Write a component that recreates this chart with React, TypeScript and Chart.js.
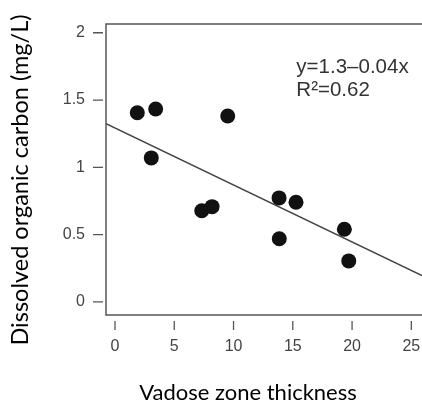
import React, { useEffect, useRef } from 'react';
import { Chart, registerables } from 'chart.js';
Chart.register(...registerables);

// Data
const thickness = [1.88, 3.43, 3.06, 9.51, 7.32, 8.19, 13.84, 15.27, 13.86, 19.35, 19.72];
const carbon = [1.406, 1.434, 1.07, 1.382, 0.678, 0.708, 0.773, 0.741, 0.47, 0.54, 0.305];
const fitX = [-0.76, 25.9];
const fitY = [1.325, 0.196];
const xTicks = [0, 5, 10, 15, 20, 25];
const xTickLabels = ['0', '5', '10', '15', '20', '25'];
const yTicks = [0, 0.5, 1, 1.5, 2];
const yTickLabels = ['0', '0.5', '1', '1.5', '2'];
const equationLines = ['y=1.3\u20130.04x', 'R\u00B2=0.62'];
const xTitle = 'Vadose zone thickness';
const yTitle = 'Dissolved organic carbon (mg/L)';

const W = 422;
const H = 405;

const framePlugin = {
  id: 'frame',
  afterDraw(chart: any) {
    const { ctx, chartArea, scales } = chart;
    const { left, top, right, bottom } = chartArea;
    ctx.save();
    ctx.strokeStyle = '#555';
    ctx.lineWidth = 1.5;
    ctx.beginPath();
    ctx.moveTo(right + 2, top);
    ctx.lineTo(left, top);
    ctx.lineTo(left, bottom);
    ctx.lineTo(right + 2, bottom);
    ctx.stroke();
    // tick marks, detached from the frame
    ctx.lineWidth = 1.3;
    ctx.beginPath();
    yTicks.forEach((v) => {
      const p = scales.y.getPixelForValue(v);
      ctx.moveTo(left - 13, p);
      ctx.lineTo(left - 3, p);
    });
    xTicks.forEach((v) => {
      const p = scales.x.getPixelForValue(v);
      ctx.moveTo(p, bottom + 6);
      ctx.lineTo(p, bottom + 15);
    });
    ctx.stroke();

    // equation text
    ctx.fillStyle = '#333';
    ctx.font = '20.5px "Liberation Sans", Arial, sans-serif';
    ctx.textAlign = 'left';
    ctx.textBaseline = 'alphabetic';
    const ex = scales.x.getPixelForValue(15.3);
    ctx.fillText(equationLines[0], ex, scales.y.getPixelForValue(1.7));
    ctx.fillText(equationLines[1], ex, scales.y.getPixelForValue(1.53));

    // axis titles
    ctx.fillStyle = '#000';
    ctx.font = '22px Lato, "Open Sans", sans-serif';
    ctx.textAlign = 'center';
    ctx.fillText(xTitle, 248, 400);
    ctx.save();
    ctx.translate(28, 180);
    ctx.rotate(-Math.PI / 2);
    ctx.font = '23.5px Lato, "Open Sans", sans-serif';
    ctx.fillText(yTitle, 0, 0);
    ctx.restore();
    ctx.restore();
  },
};

export default function App() {
  const ref = useRef<HTMLCanvasElement>(null);
  useEffect(() => {
    if (!ref.current) return;
    const tickFont = { family: '"Liberation Sans", Arial, sans-serif', size: 16 };
    const chart = new Chart(ref.current, {
      type: 'scatter',
      data: {
        datasets: [
          {
            type: 'line',
            data: fitX.map((x, i) => ({ x, y: fitY[i] })),
            borderColor: '#444',
            borderWidth: 1.6,
            pointRadius: 0,
            fill: false,
            order: 2,
          } as any,
          {
            type: 'scatter',
            data: thickness.map((x, i) => ({ x, y: carbon[i] })),
            backgroundColor: '#111',
            borderColor: '#111',
            pointRadius: 7.5,
            borderWidth: 0,
            order: 1,
          },
        ],
      },
      options: {
        responsive: false,
        animation: false,
        layout: { autoPadding: false, padding: { top: 24, left: 0, right: 0, bottom: 0 } },
        plugins: { legend: { display: false }, tooltip: { enabled: false } },
        scales: {
          x: {
            type: 'linear',
            min: -0.76,
            max: 25.9,
            grid: { display: false, drawTicks: false },
            border: { display: false },
            afterBuildTicks: (s: any) => {
              s.ticks = xTicks.map((v) => ({ value: v }));
            },
            afterFit: (s: any) => {
              s.height = 90;
              s.paddingLeft = 0;
              s.paddingRight = 0;
            },
            ticks: {
              font: tickFont,
              color: '#444',
              padding: 22,
              autoSkip: false,
              maxRotation: 0,
              callback: (_v: any, i: number) => xTickLabels[i],
            },
          },
          y: {
            type: 'linear',
            min: -0.097,
            max: 2.065,
            grid: { display: false, drawTicks: false },
            border: { display: false },
            afterBuildTicks: (s: any) => {
              s.ticks = yTicks.map((v) => ({ value: v }));
            },
            afterFit: (s: any) => {
              s.width = 106;
              s.paddingTop = 0;
              s.paddingBottom = 0;
            },
            ticks: {
              font: tickFont,
              color: '#444',
              padding: 21,
              autoSkip: false,
              callback: (_v: any, i: number) => yTickLabels[i],
            },
          },
        },
      },
      plugins: [framePlugin],
    });
    return () => chart.destroy();
  }, []);
  return (
    <div style={{ position: 'absolute', left: 0, top: 0, width: W, height: H, background: '#fff' }}>
      <canvas ref={ref} width={W} height={H} style={{ display: 'block' }} />
    </div>
  );
}
